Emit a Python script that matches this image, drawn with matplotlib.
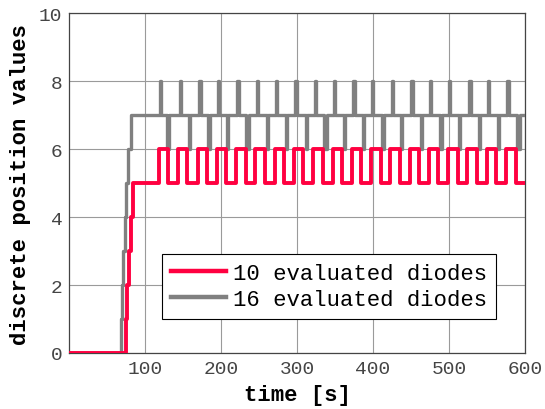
import numpy as np
import matplotlib
matplotlib.use("Agg")
import matplotlib.pyplot as plt

# --- data -----------------------------------------------------------------
# 10 evaluated diodes: step points (time [s], value), held until next point
red_t = [0, 74.5, 76, 78.5, 80.7, 83.5,
         118, 130, 143.4, 155.5, 168.8, 181, 194.2, 206.5, 219.6, 232,
         245, 257.5, 270.4, 283, 295.8, 308, 321.2, 333.5, 346.6, 359,
         372, 384.5, 397.4, 410, 422.8, 435, 448.2, 460.5, 473.6, 486,
         499, 511.5, 524.4, 537, 549.8, 562, 575.2, 588, 600]
red_v = [0, 1, 2, 3, 4, 5,
         6, 5, 6, 5, 6, 5, 6, 5, 6, 5,
         6, 5, 6, 5, 6, 5, 6, 5, 6, 5,
         6, 5, 6, 5, 6, 5, 6, 5, 6, 5,
         6, 5, 6, 5, 6, 5, 6, 5, 5]

# 16 evaluated diodes: ramp, then base level 7 with short spikes to 8 / dips to 6
gray_ramp_t = [0, 67.5, 69, 70.5, 73, 75, 77.5, 80.5]
gray_ramp_v = [0, 1, 2, 3, 4, 5, 6, 7]
gray_up = [119, 145, 170.5, 196, 221, 247, 272, 297.5, 323, 348.5,
           374, 399, 424.5, 450, 475, 500.5, 526, 551.5, 577]
gray_up_w = [1.5, 1.5, 2.5, 1.5, 2.5, 1.5, 1.5, 2.5, 1.5, 1.5,
             2.5, 1.5, 1.5, 2.5, 1.5, 1.5, 2.5, 1.5, 1.5]
gray_dn = [129, 157, 182, 208, 233, 260, 285.5, 311, 336, 362,
           387, 412, 437, 463, 488, 513.5, 539, 564, 590]
gray_dn_w = [1.5, 1.5, 2.5, 1.5, 3, 1.5, 1.5, 2.5, 3, 1.5,
             1.5, 2.5, 1.5, 1.5, 3, 1.5, 2.5, 1.5, 3]

labels = ["10 evaluated diodes", "16 evaluated diodes"]
colors = ["#ff0040", "#808080"]

# build gray step series from the event lists
ev = [(t, 8, w) for t, w in zip(gray_up, gray_up_w)] + \
     [(t, 6, w) for t, w in zip(gray_dn, gray_dn_w)]
ev.sort()
gray_t = list(gray_ramp_t)
gray_v = list(gray_ramp_v)
for t, v, w in ev:
    gray_t += [t, t + w]
    gray_v += [v, 7]
gray_t.append(600)
gray_v.append(7)

# --- plot -------------------------------------------------------------------
plt.rcParams['font.family'] = ['Liberation Mono', 'DejaVu Sans Mono']

fig = plt.figure(figsize=(5.45, 4.1), dpi=100)
ax = fig.add_axes([0.1275, 0.1366, 0.8355, 0.829])

ax.plot(gray_t, gray_v, drawstyle='steps-post', color=colors[1], lw=2.4,
        label=labels[1], zorder=3)
ax.plot(red_t, red_v, drawstyle='steps-post', color=colors[0], lw=2.8,
        label=labels[0], zorder=4)

ax.set_xlim(0, 600)
ax.set_ylim(0, 10)
ax.set_xticks([100, 200, 300, 400, 500, 600])
ax.set_yticks([0, 2, 4, 6, 8, 10])
ax.grid(True, color='#9a9a9a', lw=0.8)
ax.set_axisbelow(True)
ax.tick_params(length=0, labelsize=14, labelcolor='#444444', pad=5)
for s in ax.spines.values():
    s.set_color('#444444')
    s.set_linewidth(0.9)

ax.set_xlabel('time [s]', fontsize=16, fontweight='bold', labelpad=5)
ax.set_ylabel('discrete position values', fontsize=16, fontweight='bold',
              labelpad=6)

h, l = ax.get_legend_handles_labels()
leg = ax.legend(h[::-1], l[::-1], loc='lower left',
                bbox_to_anchor=(0.203, 0.1), fontsize=16, frameon=True,
                fancybox=False, framealpha=1, edgecolor='black',
                handlelength=2.5, handletextpad=0.3, labelspacing=0.25,
                borderpad=0.4, borderaxespad=0)
leg.get_frame().set_linewidth(0.8)
for line in leg.get_lines():
    line.set_linewidth(3.2)

fig.savefig('out.png', dpi=100)
